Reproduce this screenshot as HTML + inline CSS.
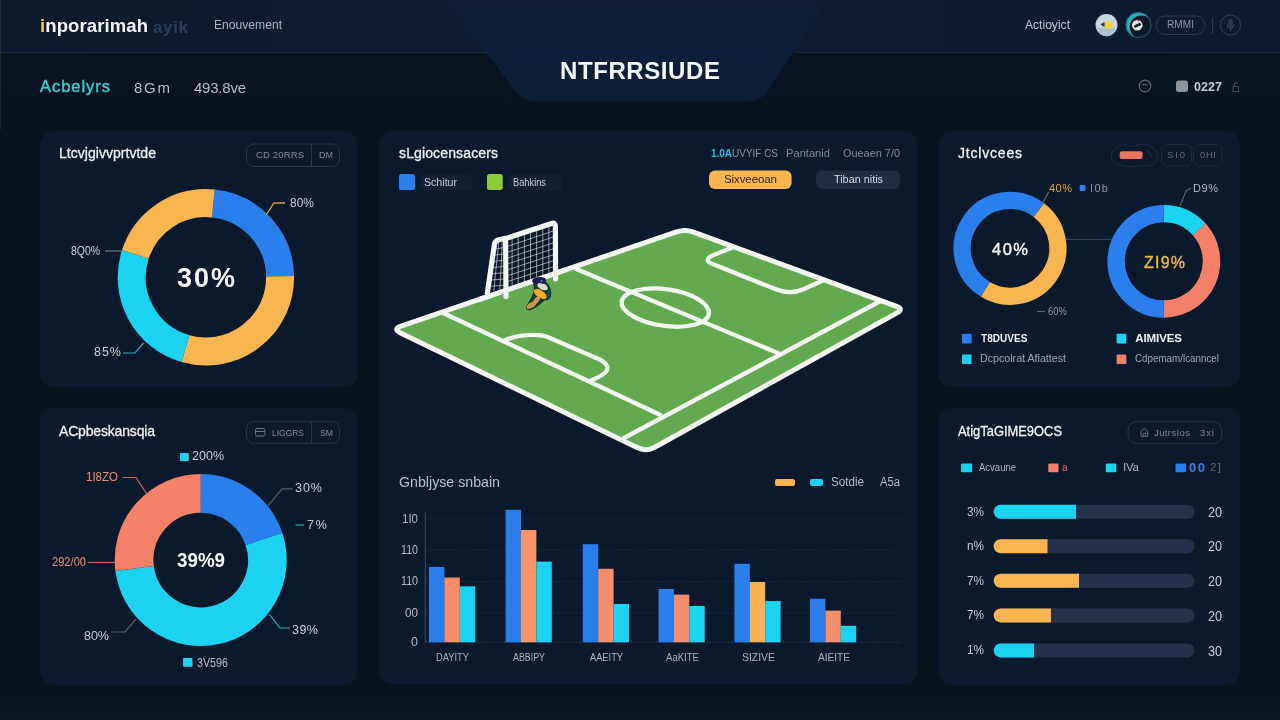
<!DOCTYPE html>
<html lang="en"><head><meta charset="utf-8"><title>NTFRRSIUDE dashboard</title>
<style>
*{box-sizing:border-box;margin:0;padding:0}
html,body{width:1280px;height:720px;overflow:hidden;background:#07121e;font-family:"Liberation Sans",sans-serif}
#app{position:relative;width:1280px;height:720px;overflow:hidden;background:linear-gradient(180deg,#071422 0px,#06121f 130px,#06121f 690px,#091626 720px)}
header{position:absolute;left:0;top:0;width:1280px;height:53px;box-shadow:inset 1px 0 0 #1a2a40;background:linear-gradient(90deg,#0d1a2d 0%,#0c1c33 45%,#0b1a2f 100%)}
.panel{position:absolute;background:#0a1a2c;border-radius:14px}
#p1{left:40px;top:131px;width:318px;height:256px}
#p2{left:40px;top:408px;width:318px;height:277px}
#p3{left:379px;top:131px;width:539px;height:553px}
#p4{left:938px;top:131px;width:302px;height:256px}
#p5{left:938px;top:408px;width:302px;height:277px}
.g{position:absolute;left:0;top:0;overflow:visible}
nav{position:absolute;left:0;top:53px;width:1280px;height:77px;box-shadow:inset 1px 0 0 #142236}
.t{position:absolute;white-space:nowrap;line-height:1;display:block;transform-origin:0 50%}
.t b{font-weight:inherit}
</style></head>
<body><div id="app">
<header id="hdr" aria-label="Top bar">
<svg class="g" viewBox="0 0 1280 53" width="1280" height="53">
<defs><linearGradient id="tabg" x1="0" y1="0" x2="0" y2="1"><stop offset="0" stop-color="#0d1d35"/><stop offset="0.55" stop-color="#0c1f3a"/><stop offset="1" stop-color="#0b1e37"/></linearGradient></defs>
<path d="M443 0C468 32 492 58 510 84Q521 101.5 538 101.5L748 101.5Q763 101.5 772 84C789 58 805 32 828 0Z" fill="url(#tabg)"/>
<path d="M0 52.5H489M796 52.5H1280" stroke="#1c2c42" stroke-width="1.2" fill="none"/>
<circle cx="1106.5" cy="25" r="11" fill="#c9d6e2"/><path d="M1098 28a8.5 8.5 0 0 0 17 0z" fill="#a9bfd2"/><circle cx="1108.5" cy="25" r="4.2" fill="#f4cf3d"/><path d="M1100.5 24.5l4-2.5v5z" fill="#1d2a3d"/>
<clipPath id="av2"><circle cx="1138.5" cy="25" r="12.8"/></clipPath><circle cx="1138.5" cy="25" r="12.8" fill="#27b3bd"/><circle cx="1141.3" cy="27" r="11.6" fill="#0b1828" clip-path="url(#av2)"/><circle cx="1138.5" cy="25" r="12.4" fill="none" stroke="#2e5563" stroke-width="0.9"/><circle cx="1137.3" cy="25.2" r="5.3" fill="#e9edf1"/><path d="M1133.6 25.8l6.5-3.4 1.2 2.6-6.4 3z" fill="#17202d"/><circle cx="1138.3" cy="20.8" r="1.1" fill="#e0523f"/>
<rect x="1156" y="16" width="49.0" height="18.5" rx="9.2" fill="none" stroke="#2c3d54" stroke-width="1"/>
<path d="M1212.5 17.5V34" stroke="#2a3a50" stroke-width="1.2"/>
<circle cx="1230.5" cy="25" r="10" fill="none" stroke="#2c3d54" stroke-width="1.1"/><rect x="1228.3" y="19" width="4.4" height="8.2" rx="2.2" fill="#2b3a50"/><path d="M1227 24.6a3.5 3.5 0 0 0 7 0M1230.5 28.2v2.6" fill="none" stroke="#3d4d63" stroke-width="1" stroke-linecap="round"/>
</svg>
<span class="t" id="t0" style="left:40.0px;top:16.9px;font-size:18.5px;color:#f4f7fa;font-weight:700;letter-spacing:0.11px;"><b style="color:#f5c842">i</b>nporarimah</span>
<span class="t" id="t1" style="left:153.0px;top:18.7px;font-size:17px;color:#2b3d5c;font-weight:700;letter-spacing:0.64px;">ayik</span>
<span class="t" id="t2" style="left:214.0px;top:18.9px;font-size:12.5px;color:#a9b3c0;font-weight:400;transform:scaleX(0.969);">Enouvement</span>
<span class="t" id="t7" style="left:1025.0px;top:18.9px;font-size:12.5px;color:#c3cbd6;font-weight:400;transform:scaleX(0.967);">Actioyict</span>
<span class="t" id="t8" style="left:1167.0px;top:20.1px;font-size:10px;color:#8d99a8;font-weight:400;letter-spacing:0.11px;">RMMI</span>
</header>
<nav id="sub" aria-label="Toolbar">
<svg class="g" viewBox="0 53 1280 77" width="1280" height="77">
<circle cx="1145" cy="86" r="5.8" fill="none" stroke="#5f6b7b" stroke-width="1.2"/><path d="M1142.2 84.8h5.6" stroke="#5f6b7b" stroke-width="1.1"/>
<rect x="1176" y="80.5" width="12.00" height="11.50" rx="2.5" fill="#8f959e" />
<path d="M1233 86.5h5.5v5h-5.5zM1234.3 86.5v-2.5a1.5 1.5 0 0 1 3 0" fill="none" stroke="#3d4a5c" stroke-width="1.1"/>
</svg>
<span class="t" id="t3" style="left:40.0px;top:24.9px;font-size:16.5px;color:#35d2cd;font-weight:400;letter-spacing:0.96px;-webkit-text-stroke:0.4px #35d2cd;">Acbelyrs</span>
<span class="t" id="t4" style="left:134.0px;top:26.7px;font-size:15px;color:#b4bdc9;font-weight:400;letter-spacing:1.74px;">8Gm</span>
<span class="t" id="t5" style="left:194.0px;top:26.7px;font-size:15px;color:#b4bdc9;font-weight:400;letter-spacing:-0.23px;">493.8ve</span>
<span class="t" id="t6" style="left:560.0px;top:6.2px;font-size:24px;color:#f7f9fb;font-weight:700;letter-spacing:0.59px;">NTFRRSIUDE</span>
<span class="t" id="t9" style="left:1194.0px;top:26.6px;font-size:13px;color:#c3cad4;font-weight:700;transform:scaleX(0.968);">0227</span>
</nav>
<section class="panel" id="p1" aria-label="Donut chart one">
<svg class="g" viewBox="40 131 318 256" width="318" height="256">
<path d="M213.27 203.47A74.2 74.2 0 0 1 280.09 276.26" fill="none" stroke="#2b7fec" stroke-width="28.0"/><path d="M280.09 276.26A74.2 74.2 0 0 1 185.45 348.63" fill="none" stroke="#f9b650" stroke-width="28.0"/><path d="M185.45 348.63A74.2 74.2 0 0 1 135.33 254.37" fill="none" stroke="#1bd3f1" stroke-width="28.0"/><path d="M135.33 254.37A74.2 74.2 0 0 1 213.27 203.47" fill="none" stroke="#f9b650" stroke-width="28.0"/>
<path d="M266.5 214.5L274.0 203.0L285.0 203.0" fill="none" stroke="#e0a144" stroke-width="1.3" />
<path d="M105.0 251.0L122.0 251.0" fill="none" stroke="#5d7384" stroke-width="1.2" />
<path d="M123.0 353.0L135.0 353.0L143.5 343.0" fill="none" stroke="#2ea7b5" stroke-width="1.2" />
<rect x="246.5" y="144" width="93.0" height="22.5" rx="7" fill="none" stroke="#26364d" stroke-width="1"/>
<path d="M311.5 144.5V166" stroke="#26364d" stroke-width="1"/>
</svg>
<span class="t" id="t10" style="left:19.0px;top:15.1px;font-size:14px;color:#eef2f6;font-weight:400;letter-spacing:0.03px;-webkit-text-stroke:0.3px #eef2f6;">Ltcvjgivvprtvtde</span>
<span class="t" id="t11" style="left:216.0px;top:19.3px;font-size:9.5px;color:#7f8b9b;font-weight:400;letter-spacing:0.14px;">CD 20RRS</span>
<span class="t" id="t12" style="left:279.0px;top:19.3px;font-size:9.5px;color:#7f8b9b;font-weight:400;transform:scaleX(0.947);">DM</span>
<span class="t" id="t13" style="left:137.0px;top:134.0px;font-size:27px;color:#f7f9fb;font-weight:700;letter-spacing:1.98px;">30%</span>
<span class="t" id="t14" style="left:250.0px;top:66.4px;font-size:12.5px;color:#c9d0d9;font-weight:400;transform:scaleX(0.959);">80%</span>
<span class="t" id="t15" style="left:31.0px;top:114.1px;font-size:12px;color:#c9d0d9;font-weight:400;transform:scaleX(0.869);">8Q0%</span>
<span class="t" id="t16" style="left:54.0px;top:215.4px;font-size:12.5px;color:#c9d0d9;font-weight:400;letter-spacing:0.98px;">85%</span>
</section>
<section class="panel" id="p2" aria-label="Donut chart two">
<svg class="g" viewBox="40 408 318 277" width="318" height="277">
<path d="M200.70 493.35A66.65 66.65 0 0 1 263.98 539.07" fill="none" stroke="#2b7fec" stroke-width="38.7"/><path d="M263.98 539.07A66.65 66.65 0 1 1 134.61 568.58" fill="none" stroke="#1bd3f1" stroke-width="38.7"/><path d="M134.61 568.58A66.65 66.65 0 0 1 200.70 493.35" fill="none" stroke="#f5806a" stroke-width="38.7"/>
<rect x="180" y="453" width="8.80" height="8.00" rx="1" fill="#1bd3f1" />
<rect x="183" y="658" width="9.50" height="8.70" rx="1" fill="#1bd3f1" />
<path d="M122.5 477.5L136.0 477.5L147.5 495.0" fill="none" stroke="#c96a55" stroke-width="1.2" />
<path d="M88.0 562.5L114.5 562.5" fill="none" stroke="#c96a55" stroke-width="1.2" />
<path d="M111.0 632.0L125.0 632.0L136.0 619.0" fill="none" stroke="#4d6076" stroke-width="1.2" />
<path d="M268.0 506.0L282.0 488.8L293.0 488.8" fill="none" stroke="#4d6076" stroke-width="1.2" />
<path d="M295.5 525.0L304.0 525.0" fill="none" stroke="#2ea7b5" stroke-width="1.2" />
<path d="M269.6 614.6L280.0 628.0L290.0 628.0" fill="none" stroke="#2ea7b5" stroke-width="1.2" />
<rect x="246.5" y="421.7" width="93.0" height="21.5" rx="7" fill="none" stroke="#26364d" stroke-width="1"/>
<path d="M311.5 422.2V442.700" stroke="#26364d" stroke-width="1"/>
<rect x="255.5" y="428.5" width="9.5" height="7.5" rx="1.5" fill="none" stroke="#6d7a8c" stroke-width="1"/><path d="M255.5 431.5h9.5" stroke="#6d7a8c" stroke-width="1"/>
</svg>
<span class="t" id="t17" style="left:19.0px;top:16.1px;font-size:14px;color:#eef2f6;font-weight:400;letter-spacing:-0.17px;-webkit-text-stroke:0.3px #eef2f6;">ACpbeskansqia</span>
<span class="t" id="t18" style="left:232.0px;top:19.8px;font-size:9.5px;color:#7f8b9b;font-weight:400;transform:scaleX(0.891);">LIGGRS</span>
<span class="t" id="t19" style="left:280.0px;top:19.8px;font-size:9.5px;color:#7f8b9b;font-weight:400;transform:scaleX(0.912);">SM</span>
<span class="t" id="t20" style="left:137.0px;top:141.2px;font-size:21px;color:#f7f9fb;font-weight:700;transform:scaleX(0.894);">39%9</span>
<span class="t" id="t21" style="left:152.0px;top:42.4px;font-size:12.5px;color:#c9d0d9;font-weight:400;letter-spacing:0.01px;">200%</span>
<span class="t" id="t22" style="left:46.0px;top:63.4px;font-size:12.5px;color:#f08a6c;font-weight:400;transform:scaleX(0.921);">1I8ZO</span>
<span class="t" id="t23" style="left:12.0px;top:148.4px;font-size:12.5px;color:#f08a6c;font-weight:400;transform:scaleX(0.889);">292/00</span>
<span class="t" id="t24" style="left:44.0px;top:221.9px;font-size:12.5px;color:#c9d0d9;font-weight:400;letter-spacing:-0.02px;">80%</span>
<span class="t" id="t25" style="left:255.0px;top:74.4px;font-size:12.5px;color:#c9d0d9;font-weight:400;letter-spacing:0.98px;">30%</span>
<span class="t" id="t26" style="left:267.0px;top:110.9px;font-size:12.5px;color:#c9d0d9;font-weight:400;letter-spacing:1.92px;">7%</span>
<span class="t" id="t27" style="left:252.0px;top:215.9px;font-size:12.5px;color:#c9d0d9;font-weight:400;letter-spacing:0.48px;">39%</span>
<span class="t" id="t28" style="left:157.0px;top:248.9px;font-size:12.5px;color:#b4bdc9;font-weight:400;transform:scaleX(0.857);">3V596</span>
</section>
<section class="panel" id="p3" aria-label="Pitch and bars">
<svg class="g" viewBox="379 131 539 553" width="539" height="553">
<rect x="420" y="175" width="52.00" height="15.00" rx="3" fill="#111f33" />
<rect x="508" y="175" width="54.00" height="15.00" rx="3" fill="#111f33" />
<rect x="399" y="174" width="16.00" height="16.00" rx="2.5" fill="#2b7fec" />
<rect x="487" y="174" width="15.70" height="16.00" rx="2.5" fill="#8ecb3a" />
<rect x="709" y="170.5" width="82.60" height="18.50" rx="6" fill="#f9b650" />
<rect x="816" y="170.5" width="84.00" height="18.50" rx="6" fill="#1f2c41" />
<rect x="775" y="479" width="20.00" height="7.00" rx="2" fill="#f9b650" />
<rect x="810" y="479" width="13.00" height="7.00" rx="2" fill="#1bd3f1" />
<path d="M425.0 518.7L901.0 518.7" fill="none" stroke="#1d2c40" stroke-width="1" stroke-dasharray="2 1.6"/>
<path d="M425.0 550.0L901.0 550.0" fill="none" stroke="#1d2c40" stroke-width="1" stroke-dasharray="2 1.6"/>
<path d="M425.0 581.6L901.0 581.6" fill="none" stroke="#1d2c40" stroke-width="1" stroke-dasharray="2 1.6"/>
<path d="M425.0 613.0L901.0 613.0" fill="none" stroke="#1d2c40" stroke-width="1" stroke-dasharray="2 1.6"/>
<path d="M425.0 642.3L901.0 642.3" fill="none" stroke="#25364b" stroke-width="1" stroke-dasharray="2 1.6"/>
<path d="M425.3 512.0L425.3 642.3" fill="none" stroke="#3a4b61" stroke-width="1" />
<rect x="429.0" y="567" width="15.40" height="75.30" rx="0" fill="#2b7fec" />
<rect x="444.4" y="577.5" width="15.40" height="64.80" rx="0" fill="#f68d6b" />
<rect x="459.8" y="586.3" width="15.40" height="56.00" rx="0" fill="#1bd3f1" />
<rect x="505.6" y="509.8" width="15.40" height="132.50" rx="0" fill="#2b7fec" />
<rect x="521.0" y="530" width="15.40" height="112.30" rx="0" fill="#f7946a" />
<rect x="536.4" y="561.6" width="15.40" height="80.70" rx="0" fill="#1bd3f1" />
<rect x="582.8" y="544.2" width="15.40" height="98.10" rx="0" fill="#2b7fec" />
<rect x="598.2" y="568.8" width="15.40" height="73.50" rx="0" fill="#f68d6b" />
<rect x="613.6" y="604" width="15.40" height="38.30" rx="0" fill="#1bd3f1" />
<rect x="658.5" y="589" width="15.40" height="53.30" rx="0" fill="#2b7fec" />
<rect x="673.9" y="594.6" width="15.40" height="47.70" rx="0" fill="#f68d6b" />
<rect x="689.3" y="606" width="15.40" height="36.30" rx="0" fill="#1bd3f1" />
<rect x="734.4" y="563.8" width="15.40" height="78.50" rx="0" fill="#2b7fec" />
<rect x="749.8" y="582" width="15.40" height="60.30" rx="0" fill="#f9b052" />
<rect x="765.2" y="601" width="15.40" height="41.30" rx="0" fill="#1bd3f1" />
<rect x="810.0" y="598.8" width="15.40" height="43.50" rx="0" fill="#2b7fec" />
<rect x="825.4" y="610.6" width="15.40" height="31.70" rx="0" fill="#f68d6b" />
<rect x="840.8" y="625.8" width="15.40" height="16.50" rx="0" fill="#1bd3f1" />
<path d="M400.6 332.9Q392.5 329.0 401.0 326.1L676.5 231.9Q685.0 229.0 693.5 232.1L896.5 306.3Q904.0 309.0 897.0 312.9L654.7 447.2Q646.0 452.0 637.0 447.6Z" fill="#63a94f" stroke="#f3f7f1" stroke-width="5" stroke-linejoin="round"/>
<path d="M442 312.5L661.5 415.5" fill="none" stroke="#f3f7f1" stroke-width="4.3" stroke-linecap="butt" stroke-linejoin="round"/>
<path d="M881.5 300.5L623 438.5" fill="none" stroke="#f3f7f1" stroke-width="4.3" stroke-linecap="butt" stroke-linejoin="round"/>
<path d="M575 268.5L779 353.5" fill="none" stroke="#f3f7f1" stroke-width="4.3" stroke-linecap="butt" stroke-linejoin="round"/>
<ellipse cx="665.3" cy="307.6" rx="44" ry="18.3" transform="rotate(8 665.3 307.6)" fill="none" stroke="#f3f7f1" stroke-width="4.3"/>
<path d="M732.5 247.4L713 255.2C707 257.6 705.6 261.2 711.4 263.6L776.5 289.6C786 293.2 795.5 292.8 803.5 289.2L825.5 279.2" fill="none" stroke="#f3f7f1" stroke-width="4.3" stroke-linecap="butt" stroke-linejoin="round"/>
<path d="M504 340.8C513 336.4 524 334.8 534 334.8C539.5 334.8 543 335.2 547 336.8L597.5 358.4C605.5 361.8 609.8 366.8 606 371.8C603.6 375 598 377.6 590 381" fill="none" stroke="#f3f7f1" stroke-width="4.3" stroke-linecap="butt" stroke-linejoin="round"/>
<path d="M506 241L555 224.5L555 275L506 291.5Z" fill="#0b1627"/>
<path d="M487.5 292.5L495 243L506 241L506 291.5Z" fill="#0b1627"/>
<path d="M512.1 238.9L512.1 286.1M518.2 236.9L518.2 284.2M524.4 234.8L524.4 282.4M530.5 232.8L530.5 280.5M536.6 230.7L536.6 278.6M542.8 228.6L542.8 276.8M548.9 226.6L548.9 274.9M506 246.9L555 230.4M506 252.8L555 236.4M506 258.6L555 242.3M506 264.5L555 248.2M506 270.4L555 254.2M506 276.2L555 260.1M506 282.1L555 266.1M498.7 242.3L493.7 292.2M502.3 241.7L499.8 291.8M494.1 249.2L506 247.3M493.1 255.4L506 253.6M492.2 261.6L506 259.9M491.2 267.8L506 266.2M490.3 273.9L506 272.6M489.4 280.1L506 278.9M488.4 286.3L506 285.2" fill="none" stroke="#dfe6ec" stroke-width="0.9" opacity="0.7"/>
<path d="M478 299.8L566 269.7" stroke="#f3f7f1" stroke-width="5" fill="none"/>
<path d="M487.3 293.5L494.4 244.6Q495.0 240.6 498.9 239.8L505.6 238.4" fill="none" stroke="#f3f7f1" stroke-width="5.2" stroke-linecap="round"/>
<path d="M506.0 296.5L505.6 240.1Q505.6 238.6 507.0 238.1L551.6 223.5Q555.4 222.2 555.4 226.2L555.6 279.0" fill="none" stroke="#f3f7f1" stroke-width="5.2" stroke-linecap="round" stroke-linejoin="round"/>
<g><path d="M533 284C535.5 290 532.5 296 526.2 306C525 309.5 528.5 311.2 532 309.6C537 307 542 303 545 300C548.5 301.5 551.5 298 551.3 293C551 287.5 548.5 283 544 280.5Z" fill="#0c3b2b"/><ellipse cx="531.4" cy="305.2" rx="5.4" ry="2.8" transform="rotate(-30 531.4 305.2)" fill="#cf9250"/><ellipse cx="536.6" cy="300.2" rx="4.6" ry="2.4" transform="rotate(-52 536.6 300.2)" fill="#cf9250"/><ellipse cx="540.3" cy="294" rx="7.4" ry="3.7" transform="rotate(33 540.3 294)" fill="#f6a825"/><ellipse cx="548.6" cy="294.8" rx="1.8" ry="3.8" transform="rotate(8 548.6 294.8)" fill="#124a52"/><ellipse cx="542.6" cy="286.6" rx="5.6" ry="3.1" transform="rotate(24 542.6 286.6)" fill="#dcdccb"/><path d="M532.2 280.2C533.5 276.6 541.5 276 545 278.2C547 280 546 283.4 543 283.8C540 282.6 537.5 283 536 284.4C534.5 285 532.6 283.6 532.2 280.2Z" fill="#1d1d52"/><circle cx="541.6" cy="280.8" r="1.1" fill="#4a7fd6"/></g>
</svg>
<span class="t" id="t29" style="left:20.0px;top:15.1px;font-size:14px;color:#eef2f6;font-weight:400;letter-spacing:0.13px;-webkit-text-stroke:0.3px #eef2f6;">sLgiocensacers</span>
<span class="t" id="t30" style="left:45.0px;top:45.9px;font-size:11.5px;color:#c6ced8;font-weight:400;transform:scaleX(0.922);">Schitur</span>
<span class="t" id="t31" style="left:134.0px;top:45.9px;font-size:11.5px;color:#c6ced8;font-weight:400;transform:scaleX(0.806);">Bahkins</span>
<span class="t" id="t32" style="left:332.0px;top:17.4px;font-size:11.5px;color:#8592a6;font-weight:400;transform:scaleX(0.866);"><b style="color:#25bfe0;font-weight:700">1.0A</b>UVYIF CS</span>
<span class="t" id="t33" style="left:407.0px;top:17.4px;font-size:11.5px;color:#7f8b9b;font-weight:400;transform:scaleX(0.969);">Pantanid</span>
<span class="t" id="t34" style="left:464.0px;top:17.4px;font-size:11.5px;color:#7f8b9b;font-weight:400;transform:scaleX(0.948);">Oueaen 7/0</span>
<span class="t" id="t35" style="left:345.0px;top:42.9px;font-size:11.5px;color:#2e220f;font-weight:400;letter-spacing:-0.09px;">Sixveeoan</span>
<span class="t" id="t36" style="left:455.0px;top:42.9px;font-size:11.5px;color:#d5dbe3;font-weight:400;transform:scaleX(0.942);">Tiban nitis</span>
<span class="t" id="t37" style="left:20.0px;top:342.6px;font-size:15px;color:#b9c2cd;font-weight:400;transform:scaleX(0.946);">Gnbljyse snbain</span>
<span class="t" id="t38" style="left:452.0px;top:345.1px;font-size:12px;color:#b4bdc9;font-weight:400;transform:scaleX(0.970);">Sotdie</span>
<span class="t" id="t39" style="left:501.0px;top:345.1px;font-size:12px;color:#b4bdc9;font-weight:400;transform:scaleX(0.936);">A5a</span>
<span class="t" id="t40" style="left:23.0px;top:381.9px;font-size:12.5px;color:#b4bdc9;font-weight:400;transform:scaleX(0.920);">1I0</span>
<span class="t" id="t41" style="left:22.0px;top:412.9px;font-size:12.5px;color:#b4bdc9;font-weight:400;transform:scaleX(0.853);">110</span>
<span class="t" id="t42" style="left:22.0px;top:444.4px;font-size:12.5px;color:#b4bdc9;font-weight:400;transform:scaleX(0.853);">110</span>
<span class="t" id="t43" style="left:26.0px;top:475.9px;font-size:12.5px;color:#b4bdc9;font-weight:400;transform:scaleX(0.935);">00</span>
<span class="t" id="t44" style="left:32.0px;top:504.9px;font-size:12.5px;color:#b4bdc9;font-weight:400;letter-spacing:0.05px;">0</span>
<span class="t" id="t45" style="left:57.0px;top:520.6px;font-size:11px;color:#a9b3c0;font-weight:400;transform:scaleX(0.848);">DAYITY</span>
<span class="t" id="t46" style="left:134.0px;top:520.6px;font-size:11px;color:#a9b3c0;font-weight:400;transform:scaleX(0.805);">ABBIPY</span>
<span class="t" id="t47" style="left:211.0px;top:520.6px;font-size:11px;color:#a9b3c0;font-weight:400;transform:scaleX(0.843);">AAEITY</span>
<span class="t" id="t48" style="left:287.0px;top:520.6px;font-size:11px;color:#a9b3c0;font-weight:400;transform:scaleX(0.871);">AaKITE</span>
<span class="t" id="t49" style="left:363.0px;top:520.6px;font-size:11px;color:#a9b3c0;font-weight:400;transform:scaleX(0.947);">SIZIVE</span>
<span class="t" id="t50" style="left:439.0px;top:520.6px;font-size:11px;color:#a9b3c0;font-weight:400;transform:scaleX(0.918);">AIEITE</span>
</section>
<section class="panel" id="p4" aria-label="Twin donuts">
<svg class="g" viewBox="938 131 302 256" width="302" height="256">
<path d="M1066.0 239.4L1112.0 239.4" fill="none" stroke="#34445a" stroke-width="1.2" />
<path d="M1038.83 210.05A47.9 47.9 0 0 1 985.33 289.36" fill="none" stroke="#f9b650" stroke-width="17.200000000000003"/><path d="M985.33 289.36A47.9 47.9 0 1 1 1038.83 210.05" fill="none" stroke="#2b7fec" stroke-width="17.200000000000003"/>
<path d="M1163.80 213.60A47.7 47.7 0 0 1 1199.25 229.38" fill="none" stroke="#1bd3f1" stroke-width="17.4"/><path d="M1199.25 229.38A47.7 47.7 0 0 1 1163.80 309.00" fill="none" stroke="#f5806a" stroke-width="17.4"/><path d="M1163.80 309.00A47.7 47.7 0 0 1 1163.80 213.60" fill="none" stroke="#2b7fec" stroke-width="17.4"/>
<path d="M1042.7 202.8L1048.6 192.0" fill="none" stroke="#6f6a58" stroke-width="1.1" />
<rect x="1079.7" y="185" width="5.80" height="6.00" rx="1" fill="#2b7fec" />
<path d="M1180.0 206.0L1186.0 191.0L1191.0 188.0" fill="none" stroke="#4d6076" stroke-width="1.2" />
<path d="M1037.0 311.5L1045.0 311.5" fill="none" stroke="#5d6a7b" stroke-width="1.2" />
<rect x="962" y="333.8" width="9.60" height="9.80" rx="1" fill="#2b7fec" />
<rect x="962" y="354.5" width="9.60" height="9.50" rx="1" fill="#1bd3f1" />
<rect x="1116.6" y="333.8" width="9.70" height="9.80" rx="1" fill="#1bd3f1" />
<rect x="1116.6" y="354.5" width="9.70" height="9.50" rx="1" fill="#f5806a" />
<path d="M1117 147.5Q1124 142.5 1131 146.5Q1144 141.5 1152 147.5Q1160 152 1157 160Q1154 167 1143 165.5Q1130 168 1120 165Q1110 163 1111.5 155Q1112 150 1117 147.5Z" fill="none" stroke="#1c2b41" stroke-width="1"/>
<path d="M1147 150l5 7" stroke="#22324a" stroke-width="1"/>
<rect x="1119.7" y="151.2" width="22.80" height="7.80" rx="2" fill="#f07464" />
<rect x="1161.5" y="144.5" width="30.0" height="21.5" rx="6" fill="none" stroke="#1c2b41" stroke-width="1"/>
<rect x="1193.5" y="144.5" width="28.5" height="21.5" rx="6" fill="none" stroke="#1c2b41" stroke-width="1"/>
</svg>
<span class="t" id="t51" style="left:20.0px;top:15.1px;font-size:14px;color:#eef2f6;font-weight:400;letter-spacing:0.80px;-webkit-text-stroke:0.3px #eef2f6;">Jtclvcees</span>
<span class="t" id="t52" style="left:229.0px;top:19.3px;font-size:9.5px;color:#5d6a7b;font-weight:400;letter-spacing:1.87px;">SI0</span>
<span class="t" id="t53" style="left:262.0px;top:19.3px;font-size:9.5px;color:#5d6a7b;font-weight:400;letter-spacing:0.60px;">0HI</span>
<span class="t" id="t54" style="left:54.0px;top:110.4px;font-size:16.5px;color:#f7f9fb;font-weight:400;letter-spacing:1.48px;-webkit-text-stroke:0.4px #f7f9fb;">40%</span>
<span class="t" id="t55" style="left:206.0px;top:124.2px;font-size:16px;color:#f3b73f;font-weight:400;letter-spacing:1.22px;-webkit-text-stroke:0.4px #f3b73f;">ZI9%</span>
<span class="t" id="t56" style="left:111.0px;top:51.6px;font-size:11px;color:#e9a63c;font-weight:400;letter-spacing:0.48px;">40%</span>
<span class="t" id="t57" style="left:152.0px;top:51.6px;font-size:11px;color:#8d99a8;font-weight:400;letter-spacing:1.35px;">I0b</span>
<span class="t" id="t58" style="left:255.0px;top:52.1px;font-size:11px;color:#b4bdc9;font-weight:400;letter-spacing:0.58px;">D9%</span>
<span class="t" id="t59" style="left:110.0px;top:175.1px;font-size:11px;color:#8d99a8;font-weight:400;transform:scaleX(0.862);">60%</span>
<span class="t" id="t60" style="left:42.5px;top:201.9px;font-size:11.5px;color:#f0f3f7;font-weight:700;transform:scaleX(0.877);">T8DUVES</span>
<span class="t" id="t61" style="left:42.0px;top:222.4px;font-size:11.5px;color:#9aa6b4;font-weight:400;transform:scaleX(0.928);">Dcpcolrat Afiattest</span>
<span class="t" id="t62" style="left:197.3px;top:201.9px;font-size:11.5px;color:#f0f3f7;font-weight:700;letter-spacing:-0.10px;">AIMIVES</span>
<span class="t" id="t63" style="left:197.0px;top:222.4px;font-size:11.5px;color:#9aa6b4;font-weight:400;transform:scaleX(0.853);">Cdpemam/lcanncel</span>
</section>
<section class="panel" id="p5" aria-label="Progress list">
<svg class="g" viewBox="938 408 302 277" width="302" height="277">
<rect x="961" y="463.4" width="11.20" height="8.80" rx="1.2" fill="#1bd3f1" />
<rect x="1048.3" y="463.4" width="10.20" height="8.80" rx="1.2" fill="#f5806a" />
<rect x="1105.7" y="463.4" width="10.50" height="8.80" rx="1.2" fill="#1bd3f1" />
<rect x="1175.5" y="463.4" width="10.50" height="8.80" rx="1.2" fill="#2b7fec" />
<rect x="993.7" y="504.7" width="200.90" height="14.00" rx="7" fill="#24334b" />
<path d="M1076 504.7H1000.7a7 7 0 0 0 0 14H1076Z" fill="#1bd3f1"/>
<rect x="993.7" y="539.3" width="200.90" height="14.00" rx="7" fill="#24334b" />
<path d="M1047.5 539.3H1000.7a7 7 0 0 0 0 14H1047.5Z" fill="#f9b650"/>
<rect x="993.7" y="573.8" width="200.90" height="14.00" rx="7" fill="#24334b" />
<path d="M1079 573.8H1000.7a7 7 0 0 0 0 14H1079Z" fill="#f9b650"/>
<rect x="993.7" y="608.4" width="200.90" height="14.00" rx="7" fill="#24334b" />
<path d="M1051 608.4H1000.7a7 7 0 0 0 0 14H1051Z" fill="#f9b650"/>
<rect x="993.7" y="643.4" width="200.90" height="14.00" rx="7" fill="#24334b" />
<path d="M1034 643.4H1000.7a7 7 0 0 0 0 14H1034Z" fill="#1bd3f1"/>
<rect x="1128" y="421.7" width="93.7" height="22.0" rx="8.5" fill="none" stroke="#25354b" stroke-width="1"/>
<path d="M1141 436.5v-5l3.3-3.3 3.3 3.3v5zM1143.2 436.5v-3h2.2v3" fill="none" stroke="#5d6a7b" stroke-width="1"/>
</svg>
<span class="t" id="t64" style="left:20.0px;top:16.1px;font-size:14px;color:#eef2f6;font-weight:400;transform:scaleX(0.922);-webkit-text-stroke:0.3px #eef2f6;">AtigTaGIME9OCS</span>
<span class="t" id="t65" style="left:216.0px;top:19.8px;font-size:9.5px;color:#7f8b9b;font-weight:400;letter-spacing:0.39px;">JutrsIos</span>
<span class="t" id="t66" style="left:262.0px;top:19.8px;font-size:9.5px;color:#7f8b9b;font-weight:400;letter-spacing:0.92px;">3xi</span>
<span class="t" id="t67" style="left:41.0px;top:53.9px;font-size:11.5px;color:#a9b3c0;font-weight:400;transform:scaleX(0.827);">Acvaune</span>
<span class="t" id="t68" style="left:124.0px;top:54.6px;font-size:10px;color:#e0705c;font-weight:400;letter-spacing:0.44px;">a</span>
<span class="t" id="t69" style="left:185.0px;top:53.9px;font-size:11.5px;color:#a9b3c0;font-weight:400;letter-spacing:-0.21px;">IVa</span>
<span class="t" id="t70" style="left:251.0px;top:53.1px;font-size:13px;color:#3d7fe0;font-weight:700;letter-spacing:1.53px;">00</span>
<span class="t" id="t71" style="left:272.0px;top:53.9px;font-size:11.5px;color:#5d6a7b;font-weight:400;letter-spacing:1.41px;">2]</span>
<span class="t" id="t72" style="left:29.0px;top:97.6px;font-size:12.5px;color:#c3cbd6;font-weight:400;transform:scaleX(0.940);">3%</span>
<span class="t" id="t73" style="left:270.0px;top:96.8px;font-size:14px;color:#c3cbd6;font-weight:400;transform:scaleX(0.899);">20</span>
<span class="t" id="t74" style="left:29.0px;top:132.2px;font-size:12.5px;color:#c3cbd6;font-weight:400;transform:scaleX(0.940);">n%</span>
<span class="t" id="t75" style="left:270.0px;top:131.4px;font-size:14px;color:#c3cbd6;font-weight:400;transform:scaleX(0.899);">20</span>
<span class="t" id="t76" style="left:29.0px;top:166.7px;font-size:12.5px;color:#c3cbd6;font-weight:400;transform:scaleX(0.940);">7%</span>
<span class="t" id="t77" style="left:270.0px;top:165.9px;font-size:14px;color:#c3cbd6;font-weight:400;transform:scaleX(0.899);">20</span>
<span class="t" id="t78" style="left:29.0px;top:201.3px;font-size:12.5px;color:#c3cbd6;font-weight:400;transform:scaleX(0.940);">7%</span>
<span class="t" id="t79" style="left:270.0px;top:200.5px;font-size:14px;color:#c3cbd6;font-weight:400;transform:scaleX(0.899);">20</span>
<span class="t" id="t80" style="left:29.0px;top:236.3px;font-size:12.5px;color:#c3cbd6;font-weight:400;transform:scaleX(0.940);">1%</span>
<span class="t" id="t81" style="left:270.0px;top:235.5px;font-size:14px;color:#c3cbd6;font-weight:400;transform:scaleX(0.899);">30</span>
</section>
</div></body></html>
